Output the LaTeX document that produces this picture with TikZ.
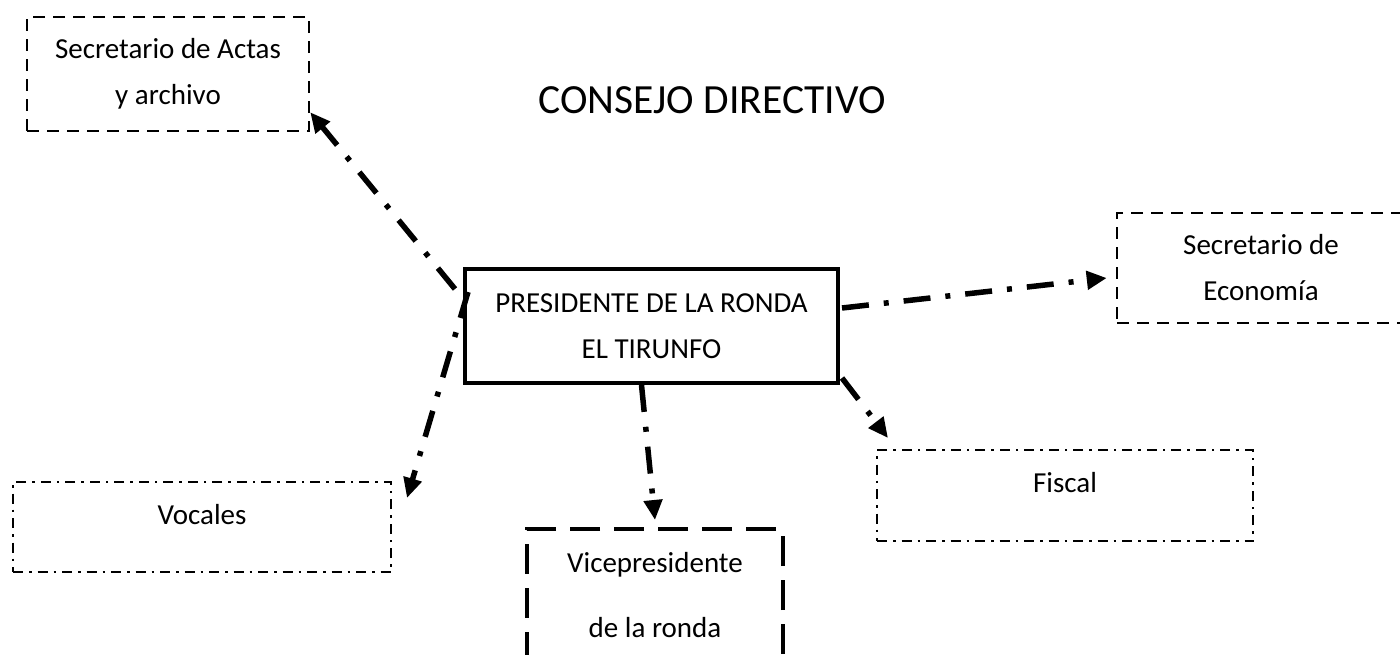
\documentclass[tikz,border=0pt]{standalone}
\usepackage{fontspec}
\setmainfont{Carlito}
\usetikzlibrary{arrows.meta}

\tikzset{
  organigrama/.style={
    x=1pt, y=-1pt,
    every node/.style={font=\fontsize{29}{46}\selectfont, align=center, inner sep=0pt},
    presidente/.style={
        draw,
        line width=4pt,
        minimum width=373pt,
        minimum height=114pt,
    },
    secretario/.style={
        draw,
        line width=2.5pt,
        dash pattern=on 12pt off 8pt,
    },
    vocal/.style={
        draw,
        line width=2pt,
        dash pattern=on 10pt off 6pt on 2.5pt off 6pt,
        anchor=north west,
        text height=42pt,
        text depth=48pt,
    },
    vice/.style={
        draw,
        line width=4pt,
        dash pattern=on 30pt off 14pt,
        font=\fontsize{29}{65}\selectfont,
    },
    flecha/.style={
        line width=5.5pt,
        dash pattern=on 27pt off 15pt on 5pt off 15pt,
        -{Triangle[length=20pt,width=18pt]},
    }
  }
}

\begin{document}
\begin{tikzpicture}[organigrama]
        \useasboundingbox (0,0) rectangle (1400,654);

        \node[font=\fontsize{41.5}{48}\selectfont] (titulo) at (712,100) {CONSEJO DIRECTIVO};

        \node[presidente] (presidente) at (651.5,326) {PRESIDENTE DE LA RONDA\\EL TIRUNFO};
        \node[secretario, minimum width=282pt, minimum height=114pt] (actas) at (168,74) {Secretario de Actas\\y archivo};
        \node[secretario, minimum width=288pt, minimum height=110pt] (economia) at (1261,268) {Secretario de\\Econom\'ia};
        \node[vocal, minimum width=378pt] (vocales) at (12,481) {Vocales};
        \node[vocal, minimum width=376pt, text depth=49pt] (fiscal) at (876,449) {Fiscal};
        \node[vice, minimum width=256pt, minimum height=133pt] (vice) at (655,595.5) {Vicepresidente\\de la ronda};

        \draw[flecha] ([xshift=-8pt,yshift=-22pt]presidente.north west) -- ([yshift=20pt]actas.south east);
        \draw[flecha] ([xshift=2pt,yshift=18pt]presidente.east) -- ([xshift=-9pt,yshift=-10pt]economia.west);
        \draw[flecha] ([xshift=2pt,yshift=7pt]presidente.south east) -- ([xshift=12pt,yshift=11pt]fiscal.north west);
        \draw[flecha] ([xshift=-10pt]presidente.south) -- ([yshift=7pt]vice.north);
        \draw[flecha] ([xshift=5pt,yshift=-25pt]presidente.north west) -- ([xshift=15pt,yshift=-17pt]vocales.north east);
      \end{tikzpicture}
\end{document}
